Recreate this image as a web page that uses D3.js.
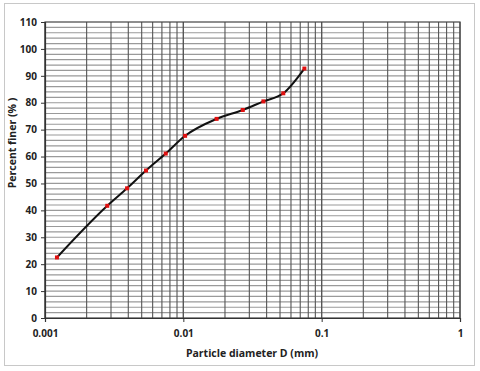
<!DOCTYPE html>
<html><head><meta charset="utf-8">
<script src="https://cdn.jsdelivr.net/npm/d3@7"></script>
<style>body{margin:0;background:#fff}svg{display:block}text{font-family:"Open Sans",sans-serif;font-weight:bold;fill:#222}</style>
</head><body>
<script>
const diameters = [0.00122, 0.00282, 0.00392, 0.00537, 0.00746, 0.0103, 0.0174, 0.0269, 0.0379, 0.0528, 0.0750];
const percentFiner = [22.5, 41.7, 48.2, 54.8, 61.1, 67.7, 74.0, 77.3, 80.5, 83.5, 92.7];
const xTickLabels = ["0.001", "0.01", "0.1", "1"];
const yTickValues = [0, 10, 20, 30, 40, 50, 60, 70, 80, 90, 100, 110];

const W = 480, H = 371;
const m = {l: 45, r: 20, t: 22, b: 53};
const svg = d3.select("body").append("svg").attr("width", W).attr("height", H);
svg.append("rect").attr("x", 4.5).attr("y", 3.5).attr("width", 470).attr("height", 362)
  .attr("fill", "#fff").attr("stroke", "#c8c8c8");

const x = d3.scaleLog().domain([0.001, 1]).range([m.l, W - m.r]);
const y = d3.scaleLinear().domain([0, 110]).range([H - m.b, m.t]);

const hg = d3.range(2, 110, 2);
svg.append("g").selectAll("line").data(hg).join("line")
  .attr("x1", m.l).attr("x2", W - m.r).attr("y1", d => y(d)).attr("y2", d => y(d))
  .attr("stroke", "#9a9a9a").attr("stroke-width", 1.2);
const vg = [];
[0.001, 0.01, 0.1].forEach(d => { for (let k = 1; k <= 10; k++) vg.push(d * k); });
svg.append("g").selectAll("line").data(vg).join("line")
  .attr("x1", d => x(d)).attr("x2", d => x(d)).attr("y1", m.t).attr("y2", H - m.b)
  .attr("stroke", "#555").attr("stroke-width", 1.1);
svg.append("rect").attr("x", m.l).attr("y", m.t).attr("width", W - m.r - m.l).attr("height", H - m.b - m.t)
  .attr("fill", "none").attr("stroke", "#444").attr("stroke-width", 1.2);

const xa = svg.append("g").attr("transform", `translate(0,${H - m.b})`)
  .call(d3.axisBottom(x).tickValues([0.001, 0.01, 0.1, 1]).tickFormat((d, i) => xTickLabels[i]).tickSize(4).tickPadding(8));
const ya = svg.append("g").attr("transform", `translate(${m.l},0)`)
  .call(d3.axisLeft(y).tickValues(yTickValues).tickSize(4).tickPadding(4));
[xa, ya].forEach(a => {
  a.select(".domain").attr("stroke", "#333").attr("stroke-width", 1.2);
  a.selectAll(".tick line").attr("stroke", "#333");
  a.selectAll("text").style("font-size", "10px").style("font-family", "'Open Sans',sans-serif").style("font-weight", "bold").attr("fill", "#222");
});

const pts = diameters.map((d, i) => [d, percentFiner[i]]);
svg.append("path").datum(pts)
  .attr("d", d3.line().x(d => x(d[0])).y(d => y(d[1])).curve(d3.curveMonotoneX))
  .attr("fill", "none").attr("stroke", "#111").attr("stroke-width", 2);
svg.append("g").selectAll("rect").data(pts).join("rect")
  .attr("x", d => x(d[0]) - 2).attr("y", d => y(d[1]) - 2).attr("width", 4).attr("height", 4)
  .attr("fill", "#e01010");

svg.append("text").attr("x", 252).attr("y", 357).attr("text-anchor", "middle")
  .style("font-size", "10.5px").text("Particle diameter D (mm)");
svg.append("text").attr("transform", "translate(16,143) rotate(-90)").attr("text-anchor", "middle")
  .style("font-size", "10.5px").text("Percent finer (% )");
</script>
</body></html>
